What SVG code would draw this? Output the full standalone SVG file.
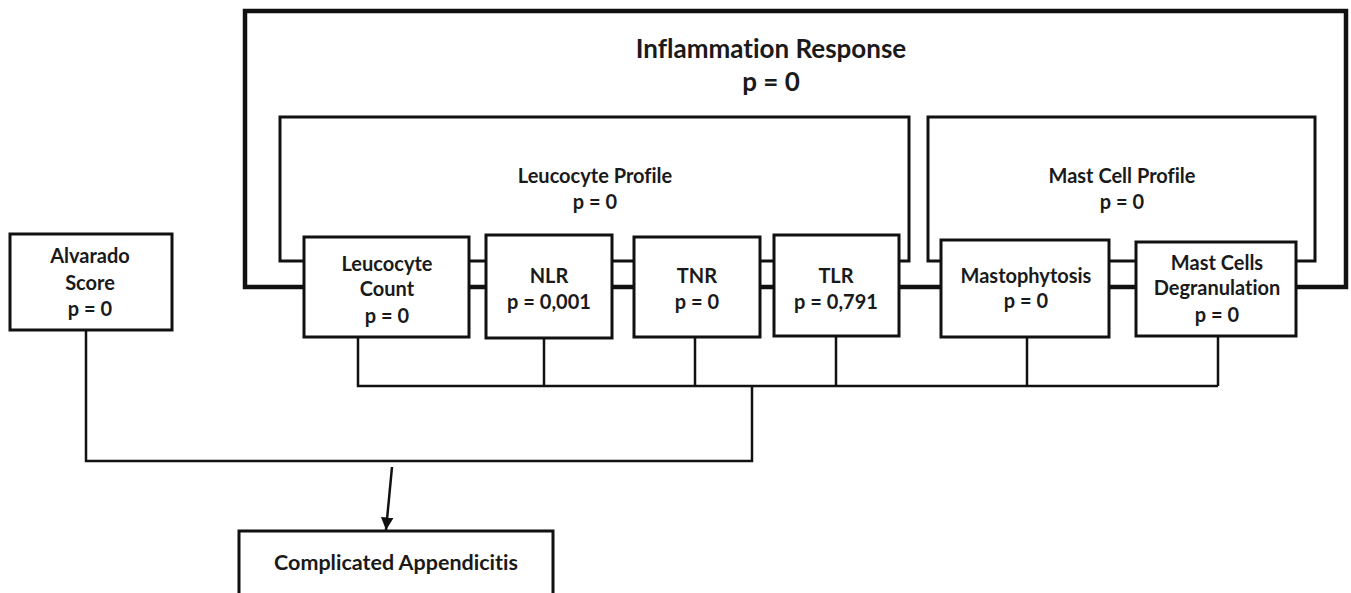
<svg xmlns="http://www.w3.org/2000/svg" width="1351" height="593" viewBox="0 0 1351 593">
<style>
text{font-family:Lato,"Liberation Sans",sans-serif;font-weight:bold;fill:#1a1a1a;text-anchor:middle;font-variant-ligatures:none}
.t{font-size:20px}
.big{font-size:26px}
.box{fill:#fff;stroke:#111;stroke-width:3}
.frame{fill:none;stroke:#111;stroke-width:4.5}
.inner{fill:none;stroke:#111;stroke-width:3}
.wire{fill:none;stroke:#111;stroke-width:2.5}
</style>
<defs>
<marker id="ah" viewBox="0 0 10 10" refX="10" refY="5" markerWidth="5" markerHeight="5" orient="auto" markerUnits="strokeWidth">
<path d="M0,0 L10,5 L0,10 z" fill="#111"/>
</marker>
</defs>
<rect width="1351" height="593" fill="#fff"/>

<g id="inflammation-response">
<path class="frame" d="M304 287 H245 V11 H1346 V287 H1296"/>
<text class="big" x="771" y="58">Inflammation Response</text>
<text class="big" x="771" y="91">p = 0</text>
</g>

<g id="leucocyte-profile">
<path class="inner" d="M304 261 H280 V117 H909 V261 H898"/>
<text class="t" x="595" y="183">Leucocyte Profile</text>
<text class="t" x="595" y="209">p = 0</text>
</g>

<g id="mast-cell-profile">
<path class="inner" d="M941 261 H928 V117 H1315 V261 H1296"/>
<text class="t" x="1122" y="183">Mast Cell Profile</text>
<text class="t" x="1122" y="209">p = 0</text>
</g>

<g id="connectors">
<path class="frame" d="M469 287 H486 M612 287 H634 M760 287 H774 M899 287 H941 M1109 287 H1136"/>
<path class="inner" d="M469 261 H486 M612 261 H634 M760 261 H774 M1109 261 H1136"/>
<path class="wire" d="M358 337 V386 H1218 M544 338 V386 M695 337 V386 M836 336 V386 M1027 337 V386 M1218 336 V386"/>
<path class="wire" d="M752 386 V461 H86 V330"/>
<line class="wire" x1="392" y1="467" x2="386" y2="530" marker-end="url(#ah)"/>
</g>

<g id="alvarado">
<rect class="box" x="10" y="234" width="162" height="96"/>
<text class="t" x="90" y="263">Alvarado</text>
<text class="t" x="90" y="290">Score</text>
<text class="t" x="90" y="316">p = 0</text>
</g>

<g id="leucocyte-count">
<rect class="box" x="304" y="237" width="165" height="100"/>
<text class="t" x="387" y="271">Leucocyte</text>
<text class="t" x="387" y="296">Count</text>
<text class="t" x="387" y="323">p = 0</text>
</g>

<g id="nlr">
<rect class="box" x="486" y="235" width="126" height="103"/>
<text class="t" x="549" y="283">NLR</text>
<text class="t" x="549" y="309">p = 0,001</text>
</g>

<g id="tnr">
<rect class="box" x="634" y="237" width="126" height="100"/>
<text class="t" x="697" y="283">TNR</text>
<text class="t" x="697" y="309">p = 0</text>
</g>

<g id="tlr">
<rect class="box" x="774" y="235" width="125" height="101"/>
<text class="t" x="836" y="283">TLR</text>
<text class="t" x="836" y="309">p = 0,791</text>
</g>

<g id="mastophytosis">
<rect class="box" x="941" y="240" width="168" height="97"/>
<text class="t" x="1026" y="283">Mastophytosis</text>
<text class="t" x="1026" y="308">p = 0</text>
</g>

<g id="mast-cells-degranulation">
<rect class="box" x="1136" y="242" width="160" height="94"/>
<text class="t" x="1217" y="270">Mast Cells</text>
<text class="t" x="1217" y="295">Degranulation</text>
<text class="t" x="1217" y="322">p = 0</text>
</g>

<g id="complicated-appendicitis">
<rect class="box" x="239" y="531" width="314" height="80"/>
<text class="t" x="396" y="570" style="font-size:21.5px">Complicated Appendicitis</text>
</g>
</svg>
